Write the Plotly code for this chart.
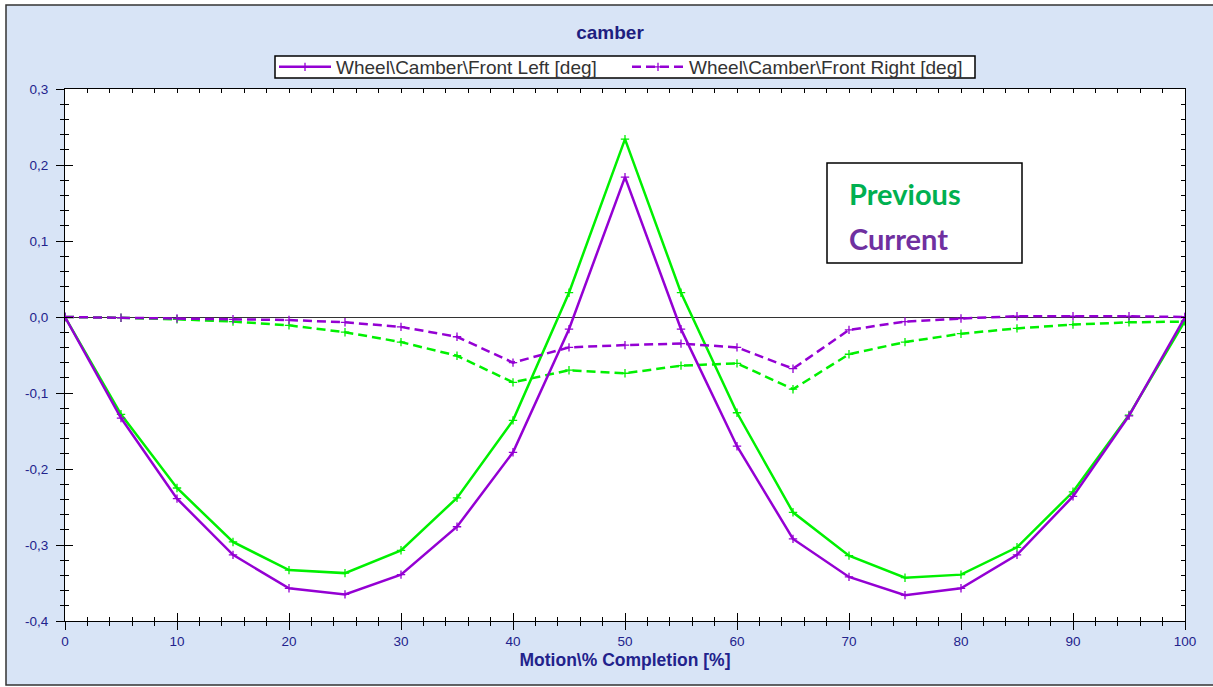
import plotly.graph_objects as go

# Motion completion steps [%]
completion = [0, 5, 10, 15, 20, 25, 30, 35, 40, 45, 50, 55, 60, 65, 70, 75, 80, 85, 90, 95, 100]

# Current setup camber [deg]
current_front_left = [0.0, -0.133, -0.239, -0.313, -0.357, -0.365, -0.339, -0.276, -0.178, -0.016,
                      0.184, -0.016, -0.170, -0.292, -0.342, -0.366, -0.357, -0.313, -0.236, -0.130, 0.0]
current_front_right = [0.0, -0.001, -0.002, -0.003, -0.004, -0.007, -0.013, -0.026, -0.060, -0.040,
                       -0.037, -0.035, -0.040, -0.068, -0.017, -0.006, -0.002, 0.001, 0.001, 0.001, 0.0]

# Previous setup camber [deg]
previous_front_left = [0.0, -0.128, -0.225, -0.296, -0.333, -0.337, -0.307, -0.238, -0.136, 0.032,
                       0.234, 0.032, -0.126, -0.257, -0.314, -0.343, -0.339, -0.303, -0.230, -0.129, -0.005]
previous_front_right = [0.0, -0.001, -0.003, -0.006, -0.011, -0.020, -0.033, -0.051, -0.086, -0.070,
                        -0.074, -0.064, -0.061, -0.095, -0.049, -0.033, -0.022, -0.015, -0.010, -0.007, -0.006]

y_tick_vals = [0.3, 0.2, 0.1, 0.0, -0.1, -0.2, -0.3, -0.4]
y_tick_text = ["0,3", "0,2", "0,1", "0,0", "-0,1", "-0,2", "-0,3", "-0,4"]
x_tick_vals = [0, 10, 20, 30, 40, 50, 60, 70, 80, 90, 100]

PURPLE = "#9400D3"
GREEN = "#00F000"
NAVY = "#22228C"
BG = "#D8E4F6"
FONT = "Liberation Sans, Arial, sans-serif"


def series(x, y, color, dash, name, show):
    return go.Scatter(
        x=x, y=y, name=name, showlegend=show, mode="lines+markers",
        line=dict(color=color, width=2.5, dash=dash),
        marker=dict(symbol="cross-thin", size=6, line=dict(color=color, width=1.3)),
    )


fig = go.Figure()
fig.add_trace(series(completion, previous_front_left, GREEN, "solid", "Previous Front Left", False))
fig.add_trace(series(completion, previous_front_right, GREEN, "9px,5px", "Previous Front Right", False))
fig.add_trace(series(completion, current_front_left, PURPLE, "solid",
                     "Wheel\\Camber\\Front Left [deg]", True))
fig.add_trace(series(completion, current_front_right, PURPLE, "9px,5px",
                     "Wheel\\Camber\\Front Right [deg]", True))

xr = [0, 100]
yr = [-0.4, 0.3]
tickfont = dict(family=FONT, size=13.5, color=NAVY)

fig.update_layout(
    width=1213, height=687,
    margin=dict(l=65, r=28, t=89, b=66),
    paper_bgcolor="white",
    plot_bgcolor="white",
    title=dict(text="<b>camber</b>", x=610 / 1213, xanchor="center", y=1 - 32 / 687, yanchor="middle",
               font=dict(family=FONT, size=19, color="#1E1E80")),
    legend=dict(orientation="h", x=(627 - 65) / 1120, xanchor="center", y=(621 - 67) / 532,
                yanchor="middle", bgcolor="rgba(0,0,0,0)", borderwidth=0,
                font=dict(family=FONT, size=19, color="#333333"),
                itemwidth=52, tracegroupgap=0, entrywidth=286, entrywidthmode="pixels"),
    xaxis=dict(range=xr, tickvals=x_tick_vals, ticks="outside", ticklen=8, tickcolor="black",
               minor=dict(ticks="outside", ticklen=4, dtick=2, tick0=0, tickcolor="black", showgrid=False),
               showline=True, linecolor="black", linewidth=1, mirror=True, showgrid=False, zeroline=False,
               tickfont=tickfont,
               title=dict(text="<b>Motion\\% Completion [%]</b>", standoff=5,
                          font=dict(family=FONT, size=17.5, color=NAVY))),
    yaxis=dict(range=yr, tickvals=y_tick_vals, ticktext=y_tick_text, ticks="outside", ticklen=8,
               tickcolor="black", ticklabelstandoff=5,
               minor=dict(ticks="outside", ticklen=4, dtick=0.02, tick0=0, tickcolor="black", showgrid=False),
               showline=True, linecolor="black", linewidth=1, mirror=True, showgrid=False,
               zeroline=True, zerolinecolor="#333333", zerolinewidth=1.2, tickfont=tickfont),
    # inner halves of the crossing ticks, plus inward ticks on the top and right edges
    xaxis2=dict(overlaying="x", anchor="y", side="bottom", range=xr, tickvals=x_tick_vals,
                ticks="inside", ticklen=8, tickcolor="black", showticklabels=False,
                minor=dict(ticks="inside", ticklen=4, dtick=2, tick0=0, tickcolor="black", showgrid=False),
                showgrid=False, zeroline=False, showline=False),
    xaxis3=dict(overlaying="x", anchor="y", side="top", range=xr, tickvals=x_tick_vals,
                ticks="inside", ticklen=4, tickcolor="black", showticklabels=False,
                minor=dict(ticks="inside", ticklen=4, dtick=2, tick0=0, tickcolor="black", showgrid=False),
                showgrid=False, zeroline=False, showline=False),
    yaxis2=dict(overlaying="y", anchor="x", side="left", range=yr, tickvals=y_tick_vals,
                ticks="inside", ticklen=8, tickcolor="black", showticklabels=False,
                minor=dict(ticks="inside", ticklen=4, dtick=0.02, tick0=0, tickcolor="black", showgrid=False),
                showgrid=False, zeroline=False, showline=False),
    yaxis3=dict(overlaying="y", anchor="x", side="right", range=yr, tickvals=y_tick_vals,
                ticks="inside", ticklen=4, tickcolor="black", showticklabels=False,
                minor=dict(ticks="inside", ticklen=4, dtick=0.02, tick0=0, tickcolor="black", showgrid=False),
                showgrid=False, zeroline=False, showline=False),
)

# invisible carriers so the extra tick axes are rendered
fig.add_trace(go.Scatter(x=[None], y=[None], xaxis="x2", yaxis="y2", showlegend=False, hoverinfo="skip"))
fig.add_trace(go.Scatter(x=[None], y=[None], xaxis="x3", yaxis="y3", showlegend=False, hoverinfo="skip"))


def px_x(p):
    return (p - 65) / 1120


def px_y(p):
    return (621 - p) / 532


# light-blue panel with dark frame, then the white plotting area on top of it
fig.add_shape(type="rect", xref="paper", yref="paper", layer="below",
              x0=px_x(6), x1=px_x(1230), y0=px_y(685), y1=px_y(5),
              fillcolor=BG, line=dict(color="#333333", width=1.5))
fig.add_shape(type="rect", xref="paper", yref="paper", layer="below",
              x0=0, x1=1, y0=0, y1=1, fillcolor="white", line=dict(width=0))

# compact frame behind the legend entries
fig.add_shape(type="rect", xref="paper", yref="paper", layer="above",
              x0=px_x(275), x1=px_x(975), y0=px_y(78), y1=px_y(56),
              fillcolor="white", line=dict(color="black", width=1.5))

# setup key box
fig.add_shape(type="rect", xref="paper", yref="paper",
              x0=px_x(827), x1=px_x(1022), y0=px_y(263), y1=px_y(163),
              fillcolor="white", line=dict(color="black", width=1.5))
fig.add_annotation(xref="paper", yref="paper", x=px_x(847), y=px_y(194), xanchor="left", yanchor="middle",
                   text="<b>Previous</b>", showarrow=False,
                   font=dict(family="Lato, Open Sans, sans-serif", size=29, color="#00B050"))
fig.add_annotation(xref="paper", yref="paper", x=px_x(847), y=px_y(239), xanchor="left", yanchor="middle",
                   text="<b>Current</b>", showarrow=False,
                   font=dict(family="Lato, Open Sans, sans-serif", size=29, color="#7030A0"))

fig.write_html("out.html")
